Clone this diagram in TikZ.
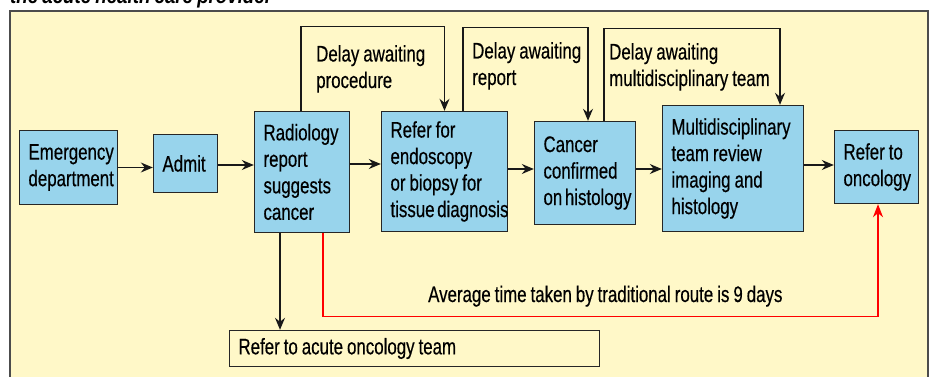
\documentclass[tikz,border=0pt]{standalone}
\usepackage{fontspec}
\usetikzlibrary{arrows.meta}
\newfontfamily\cf[FakeStretch=0.75,FakeBold=0.4,WordSpace=0.85]{Liberation Sans}
\newfontfamily\cft[FakeStretch=0.85,WordSpace=0.8]{Liberation Sans}
\definecolor{bg}{RGB}{255,248,200}
\definecolor{bx}{RGB}{152,212,236}
\hyphenpenalty=10000
\exhyphenpenalty=10000
\begin{document}
\begin{tikzpicture}[x=1pt,y=-1pt,
  txt/.style={font=\cf\fontsize{22.5}{26.5}\selectfont},
  box/.style={txt, draw=black!85, line width=1.4pt, fill=bx, inner xsep=9pt, inner ysep=0pt, align=flush left, anchor=center},
  ybox/.style={box, fill=bg},
  lbl/.style={txt, inner sep=0pt, align=flush left, anchor=base west},
  arr/.style={line width=1.3pt, draw=black!90, -{Stealth[length=12pt,width=10pt,inset=4pt]}},
  rarr/.style={line width=1.3pt, draw=red, -{Stealth[length=13pt,width=10pt,inset=4pt]}}]
\useasboundingbox (0,0) rectangle (934,377);
\clip (0,0) rectangle (934,377);
\fill[white] (0,0) rectangle (934,377);
\node[font=\cft\bfseries\itshape\fontsize{22}{26}\selectfont, anchor=base west, inner sep=0pt] (title) at (10,4) {the acute health care provider};
\draw[fill=bg, draw=black!70, line width=1.8pt] (10,11) rectangle (928,400);

\node[box, minimum width=98pt, minimum height=74pt, text width=80pt] (ed) at (68.5,167.5) {Emergency\\department};
\node[box, minimum width=64pt, minimum height=58pt, text width=46pt] (admit) at (185.5,163.5) {Admit};
\node[box, minimum width=95pt, minimum height=121pt, text width=77pt] (rad) at (302,172) {Radiology\\report\\suggests\\cancer};
\node[box, minimum width=126pt, minimum height=120pt, text width=108pt] (refer) at (444.5,171.5) {Refer~for\\endoscopy\\or~biopsy~for\\tissue~diagnosis};
\node[box, minimum width=101pt, minimum height=103pt, text width=83pt] (cancer) at (585,173) {Cancer\\confirmed\\on~histology};
\node[box, minimum width=141pt, minimum height=126pt, text width=123pt] (mdt) at (733,168.5) {Multidisciplinary\\team~review\\imaging~and\\histology};
\node[box, minimum width=84pt, minimum height=73pt, text width=66pt] (onc) at (876.5,167) {Refer~to\\oncology};
\node[ybox, minimum width=370pt, minimum height=36pt, text width=352pt] (acute) at (414.5,348.5) {Refer to acute oncology team};

% main flow
\draw[arr] (ed.east) -- (ed.east -| admit.west);
\draw[arr] ([yshift=-1.5pt]admit.east) -- ([yshift=-1.5pt]admit.east -| rad.west);
\draw[arr] ([yshift=8pt]rad.east) -- ([yshift=8pt]rad.east -| refer.west);
\draw[arr] ([yshift=2.5pt]refer.east) -- ([yshift=2.5pt]refer.east -| cancer.west);
\draw[arr] ([yshift=4pt]cancer.east) -- ([yshift=4pt]cancer.east -| mdt.west);
\draw[arr] ([yshift=3.5pt]mdt.east) -- ([yshift=3.5pt]mdt.east -| onc.west);

% delay loops
\draw[arr] ([xshift=-1pt]rad.north) -- ++(0,-84) -| (refer.north);
\draw[arr] ([xshift=18.5pt]refer.north) -- ++(0,-83) -| ([xshift=3pt]cancer.north);
\draw[arr] ([xshift=19pt]cancer.north) -- ++(0,-92) -| ([xshift=47pt]mdt.north);

\node[lbl] (l1) at (316,88) {Delay awaiting\\procedure};
\node[lbl] (l2) at (472,85) {Delay awaiting\\report};
\node[lbl] (l3) at (609,86) {Delay awaiting\\multidisciplinary team};

% acute oncology
\draw[arr] ([xshift=-22pt]rad.south) -- ([xshift=-22pt]rad.south |- acute.north);

% traditional route
\draw[rarr] ([xshift=21pt]rad.south) -- ++(0,83) -| ([xshift=1.5pt]onc.south);
\node[lbl] (avg) at (428,302) {Average time taken by traditional route is 9 days};
\end{tikzpicture}
\end{document}
